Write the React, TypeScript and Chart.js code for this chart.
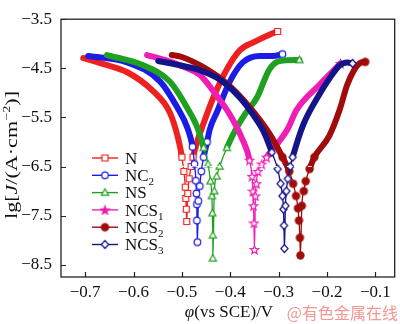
import React, { useEffect, useRef } from "react";
import { Chart, registerables } from "chart.js";
Chart.register(...registerables);

// ---- axes ----
const X_TICKS = [-0.7, -0.6, -0.5, -0.4, -0.3, -0.2, -0.1];
const Y_TICKS = [-3.5, -4.5, -5.5, -6.5, -7.5, -8.5];
const X_MIN = -0.75;
const X_MAX = -0.06;
const Y_MIN = -8.75;
const Y_MAX = -3.5;

// ---- series (potential V vs SCE, lg J) : cathodic -> Ecorr -> anodic ----
const N_E = [-0.704, -0.66, -0.613, -0.56, -0.525, -0.508, -0.5, -0.496, -0.493, -0.492, -0.491, -0.49, -0.488, -0.485, -0.481, -0.477, -0.467, -0.457, -0.436, -0.407, -0.38, -0.35, -0.318, -0.302];
const N_LG = [-4.29, -4.42, -4.58, -4.96, -5.4, -5.92, -6.31, -6.6, -6.92, -7.15, -7.37, -7.62, -7.05, -6.75, -6.5, -6.31, -5.95, -5.67, -5.12, -4.52, -4.13, -3.96, -3.81, -3.75];

const NC2_E = [-0.694, -0.613, -0.545, -0.51, -0.488, -0.478, -0.474, -0.471, -0.47, -0.469, -0.469, -0.468, -0.466, -0.463, -0.46, -0.455, -0.448, -0.442, -0.428, -0.401, -0.374, -0.339, -0.312, -0.292];
const NC2_LG = [-4.25, -4.38, -4.77, -5.29, -5.73, -6.1, -6.45, -6.79, -7.05, -7.27, -7.6, -8.04, -7.2, -6.9, -6.6, -6.31, -6.0, -5.73, -5.4, -4.77, -4.38, -4.25, -4.25, -4.21];

const NS_E = [-0.655, -0.58, -0.525, -0.49, -0.467, -0.455, -0.446, -0.441, -0.438, -0.437, -0.436, -0.436, -0.433, -0.428, -0.422, -0.407, -0.39, -0.37, -0.345, -0.319, -0.298, -0.257];
const NS_LG = [-4.23, -4.44, -4.77, -5.29, -5.73, -6.12, -6.45, -6.8, -7.1, -7.45, -7.9, -8.37, -7.0, -6.7, -6.5, -6.12, -5.77, -5.44, -5.1, -4.52, -4.35, -4.33];

const NCS1_E = [-0.572, -0.535, -0.494, -0.463, -0.428, -0.401, -0.376, -0.36, -0.355, -0.353, -0.352, -0.351, -0.35, -0.348, -0.346, -0.343, -0.335, -0.325, -0.281, -0.263, -0.215, -0.172];
const NCS1_LG = [-4.23, -4.33, -4.48, -4.63, -5.06, -5.44, -5.92, -6.37, -6.7, -7.0, -7.3, -7.65, -8.19, -7.1, -6.85, -6.6, -6.45, -6.31, -5.73, -5.35, -4.83, -4.4];

const NCS2_E = [-0.521, -0.5, -0.448, -0.407, -0.36, -0.319, -0.292, -0.278, -0.27, -0.264, -0.26, -0.258, -0.256, -0.255, -0.252, -0.248, -0.244, -0.236, -0.226, -0.195, -0.174, -0.158, -0.143, -0.129, -0.121];
const NCS2_LG = [-4.23, -4.27, -4.52, -4.81, -5.29, -5.83, -6.31, -6.6, -6.85, -7.1, -7.35, -7.6, -7.95, -8.31, -7.3, -7.0, -6.8, -6.55, -6.31, -5.87, -5.35, -4.83, -4.52, -4.38, -4.37];

const NCS3_E = [-0.549, -0.514, -0.463, -0.422, -0.38, -0.349, -0.329, -0.314, -0.302, -0.296, -0.292, -0.29, -0.289, -0.288, -0.286, -0.284, -0.281, -0.276, -0.271, -0.25, -0.215, -0.195, -0.174, -0.158, -0.147];
const NCS3_LG = [-4.35, -4.42, -4.54, -4.73, -5.1, -5.5, -5.83, -6.21, -6.55, -6.85, -7.1, -7.37, -7.7, -8.17, -7.3, -7.0, -6.75, -6.5, -6.31, -5.67, -5.02, -4.71, -4.44, -4.38, -4.4];

const NAMES = ["N", "NC", "NS", "NCS", "NCS", "NCS"];
const SUBS = ["", "2", "", "1", "2", "3"];
const SERIES_E = [N_E, NC2_E, NS_E, NCS1_E, NCS2_E, NCS3_E];
const SERIES_LG = [N_LG, NC2_LG, NS_LG, NCS1_LG, NCS2_LG, NCS3_LG];

const COLORS = ["#ee2020", "#1c1ce6", "#20a020", "#f01eb4", "#a00c0c", "#14148a"];
const MARKERS = ["square", "circle", "triangle", "star", "dot", "diamond"];
// lg J above which the dense markers merge into a solid band
const BAND_LIMITS = [-6.35, -6.35, -6.35, -6.45, -6.65, -6.4];
const MARKER_LIMIT = -5.95;

const SERIF = '"Liberation Serif", "Times New Roman", serif';

function makeMarker(kind: string, color: string, legend = false): HTMLCanvasElement {
  const size = 11;
  const c = document.createElement("canvas");
  c.width = size;
  c.height = size;
  const g = c.getContext("2d")!;
  const m = size / 2;
  g.lineWidth = 1.2;
  g.strokeStyle = color;
  g.fillStyle = "#ffffff";
  g.beginPath();
  if (kind === "square") {
    g.rect(m - 3, m - 3, 6, 6);
  } else if (kind === "circle") {
    g.arc(m, m, 3.3, 0, Math.PI * 2);
  } else if (kind === "triangle") {
    g.moveTo(m, m - 3.8);
    g.lineTo(m + 3.6, m + 2.6);
    g.lineTo(m - 3.6, m + 2.6);
    g.closePath();
  } else if (kind === "star") {
    for (let i = 0; i < 10; i++) {
      const r = i % 2 === 0 ? 4.4 : 1.9;
      const a = -Math.PI / 2 + (i * Math.PI) / 5;
      const px = m + r * Math.cos(a);
      const py = m + 0.5 + r * Math.sin(a);
      if (i === 0) g.moveTo(px, py);
      else g.lineTo(px, py);
    }
    g.closePath();
    if (legend) g.fillStyle = color;
  } else if (kind === "dot") {
    g.arc(m, m, 3.6, 0, Math.PI * 2);
    g.fillStyle = color;
  } else if (kind === "diamond") {
    g.moveTo(m, m - 4);
    g.lineTo(m + 3.6, m);
    g.lineTo(m, m + 4);
    g.lineTo(m - 3.6, m);
    g.closePath();
  }
  g.fill();
  g.stroke();
  return c;
}

type Part = { t: string; f: string; dy?: number };

function richWidth(ctx: CanvasRenderingContext2D, parts: Part[]) {
  let total = 0;
  for (const p of parts) {
    ctx.font = p.f;
    total += ctx.measureText(p.t).width;
  }
  return total;
}

function drawRich(ctx: CanvasRenderingContext2D, parts: Part[], cx: number, baseline: number, align: "center" | "left" = "center") {
  const total = richWidth(ctx, parts);
  let x = align === "center" ? cx - total / 2 : cx;
  ctx.textAlign = "left";
  ctx.textBaseline = "alphabetic";
  for (const p of parts) {
    ctx.font = p.f;
    ctx.fillText(p.t, x, baseline + (p.dy || 0));
    x += ctx.measureText(p.t).width;
  }
}

const fmt = (v: number) => (v < 0 ? "\u2212" : "") + Math.abs(v).toFixed(1);

export default function App() {
  const ref = useRef<HTMLCanvasElement | null>(null);

  useEffect(() => {
    const canvas = ref.current;
    if (!canvas) return;
    const markerImgs = COLORS.map((c, i) => makeMarker(MARKERS[i], c));
    const legendImgs = COLORS.map((c, i) => makeMarker(MARKERS[i], c, true));

    const datasets = SERIES_E.map((E, i) => {
      const lg = SERIES_LG[i];
      const last = E.length - 1;
      const lim = BAND_LIMITS[i];
      return {
        label: NAMES[i] + SUBS[i],
        data: E.map((e, k) => ({ x: e, y: lg[k] })),
        borderColor: COLORS[i],
        backgroundColor: COLORS[i],
        borderWidth: 1.3,
        borderCapStyle: "round" as const,
        borderJoinStyle: "round" as const,
        cubicInterpolationMode: "monotone" as const,
        order: 5 - i,
        pointStyle: markerImgs[i],
        pointRadius: (ctx: any) => {
          const k = ctx.dataIndex;
          const y = lg[k];
          return k === last || y < MARKER_LIMIT ? 3.5 : 0;
        },
        segment: {
          borderWidth: (ctx: any) =>
            ctx.p0.parsed.y > lim && ctx.p1.parsed.y > lim ? 6 : 1.3,
        },
      };
    });

    const deco = {
      id: "deco",
      afterDatasetsDraw(chart: any) {
        const { ctx, scales } = chart;
        const y = scales.y.getPixelForValue(-6.5);
        ctx.save();
        ctx.strokeStyle = "rgba(255,255,255,0.9)";
        ctx.lineWidth = 1;
        ctx.setLineDash([4, 3]);
        ctx.beginPath();
        ctx.moveTo(scales.x.getPixelForValue(-0.5), y);
        ctx.lineTo(scales.x.getPixelForValue(-0.22), y);
        ctx.stroke();
        ctx.restore();
      },
      afterDraw(chart: any) {
        const { ctx, chartArea: a, scales } = chart;
        ctx.save();
        // frame
        ctx.strokeStyle = "#222";
        ctx.lineWidth = 1.3;
        ctx.strokeRect(a.left, a.top, a.right - a.left, a.bottom - a.top);
        // inward ticks
        ctx.lineWidth = 1.2;
        ctx.beginPath();
        for (const v of X_TICKS) {
          const px = Math.round(scales.x.getPixelForValue(v)) + 0.5;
          ctx.moveTo(px, a.bottom);
          ctx.lineTo(px, a.bottom - 5);
        }
        for (const v of Y_TICKS) {
          const py = Math.round(scales.y.getPixelForValue(v)) + 0.5;
          ctx.moveTo(a.left, py);
          ctx.lineTo(a.left + 5, py);
        }
        ctx.stroke();

        // legend
        const f17 = `17px ${SERIF}`;
        const f11 = `11px ${SERIF}`;
        for (let i = 0; i < NAMES.length; i++) {
          const yy = 158 + i * 17.3;
          ctx.strokeStyle = COLORS[i];
          ctx.lineWidth = 1.4;
          ctx.beginPath();
          ctx.moveTo(92, yy);
          ctx.lineTo(118, yy);
          ctx.stroke();
          const img = legendImgs[i];
          ctx.drawImage(img, 105 - img.width / 2, yy - img.height / 2);
          ctx.fillStyle = "#111";
          const parts: Part[] = [{ t: NAMES[i], f: f17 }];
          if (SUBS[i]) parts.push({ t: SUBS[i], f: f11, dy: 4 });
          drawRich(ctx, parts, 125, yy + 5.8, "left");
        }

        // y title (stretched along its length as in the reference)
        ctx.fillStyle = "#111";
        const yParts: Part[] = [
          { t: "lg[", f: f17 },
          { t: "J", f: `italic 17px ${SERIF}` },
          { t: "/(A\u00b7cm", f: f17 },
          { t: "\u22122", f: f11, dy: -7 },
          { t: ")]", f: f17 },
        ];
        const w = richWidth(ctx, yParts);
        ctx.save();
        ctx.translate(17, 155);
        ctx.rotate(-Math.PI / 2);
        ctx.scale(128 / w, 1);
        drawRich(ctx, yParts, 0, 0);
        ctx.restore();

        // x title
        ctx.fillStyle = "#111";
        drawRich(
          ctx,
          [
            { t: "\u03c6", f: `italic 17px ${SERIF}` },
            { t: "(vs SCE)/V", f: f17 },
          ],
          229,
          317
        );

        // watermark
        ctx.fillStyle = "rgba(238,130,130,0.85)";
        ctx.font = `16px "Noto Sans CJK SC", sans-serif`;
        ctx.textAlign = "right";
        ctx.textBaseline = "alphabetic";
        ctx.fillText("@有色金属在线", 398, 319);
        ctx.restore();
      },
    };

    const chart = new Chart(canvas, {
      type: "line",
      data: { datasets: datasets as any },
      options: {
        responsive: false,
        animation: false,
        layout: { padding: { top: 5, right: 5, left: 0, bottom: 0 } },
        plugins: { legend: { display: false }, tooltip: { enabled: false } },
        scales: {
          x: {
            type: "linear",
            min: X_MIN,
            max: X_MAX,
            grid: { display: false, drawTicks: false },
            border: { display: false },
            afterBuildTicks: (s: any) => {
              s.ticks = X_TICKS.map((v) => ({ value: v }));
            },
            afterFit: (s: any) => {
              s.height = 47;
            },
            ticks: {
              padding: 5,
              color: "#111",
              font: { family: SERIF, size: 17 },
              maxRotation: 0,
              autoSkip: false,
              callback: (v: any) => fmt(Number(v)),
            },
          },
          y: {
            type: "linear",
            min: Y_MIN,
            max: Y_MAX,
            grid: { display: false, drawTicks: false },
            border: { display: false },
            afterBuildTicks: (s: any) => {
              s.ticks = Y_TICKS.map((v) => ({ value: v }));
            },
            afterFit: (s: any) => {
              s.width = 61;
            },
            ticks: {
              padding: 9,
              color: "#111",
              font: { family: SERIF, size: 17 },
              autoSkip: false,
              callback: (v: any) => fmt(Number(v)),
            },
          },
        },
      },
      plugins: [deco],
    });
    return () => chart.destroy();
  }, []);

  return (
    <div style={{ position: "absolute", left: 0, top: 0, width: 400, height: 324, background: "#fff" }}>
      <canvas ref={ref} width={400} height={324} style={{ display: "block" }} />
    </div>
  );
}
